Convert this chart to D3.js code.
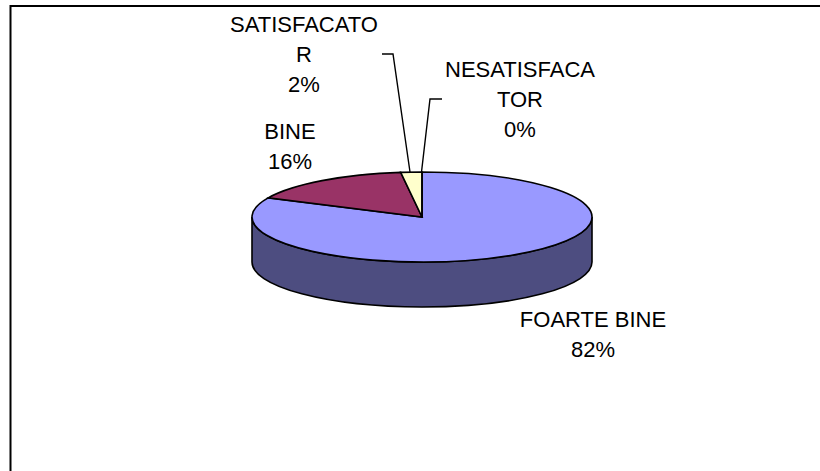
<!DOCTYPE html>
<html>
<head>
<meta charset="utf-8">
<script src="https://cdn.jsdelivr.net/npm/d3@7"></script>
<style>
  html, body { margin: 0; padding: 0; background: #fff; overflow: hidden; }
  text { font-family: "Liberation Sans", Arial, sans-serif; font-size: 22px; fill: #000; }
</style>
</head>
<body>
<div id="chart"></div>
<script>
const categories = ['FOARTE BINE', 'BINE', 'SATISFACATOR', 'NESATISFACATOR']
const values = [82, 16, 2, 0]
const labelLines = [['FOARTE BINE'], ['BINE'], ['SATISFACATO', 'R'], ['NESATISFACA', 'TOR']]
const colors = ['#9999ff', '#993366', '#ffffcc', '#ccffff']

const width = 820, height = 471
const cx = 422, cy = 217, rx = 170, ry = 45, depth = 45

const svg = d3.select('#chart').append('svg')
  .attr('width', width)
  .attr('height', height)
  .style('display', 'block')

// frame: only top and left show in the picture
svg.append('path')
  .attr('d', `M10.5,${height}V6H${width}`)
  .attr('fill', 'none')
  .attr('stroke', '#000')
  .attr('stroke-width', 2)

// front wall of the disc
svg.append('path')
  .attr('d', `M${cx - rx},${cy}V${cy + depth}A${rx},${ry} 0 0 0 ${cx + rx},${cy + depth}V${cy}A${rx},${ry} 0 0 1 ${cx - rx},${cy}Z`)
  .attr('fill', '#4d4d80')
  .attr('stroke', '#000')
  .attr('stroke-width', 1.6)

const pie = d3.pie().sort(null).value(d => d)
const arc = d3.arc().innerRadius(0).outerRadius(rx)

// flatten the pie to get the tilted look
const pieTop = svg.append('g')
  .attr('transform', `translate(${cx},${cy}) scale(1,${ry / rx})`)

pieTop.selectAll('path')
  .data(pie(values))
  .enter().append('path')
  .attr('d', arc)
  .attr('fill', (d, i) => colors[i])
  .attr('stroke', '#000')
  .attr('stroke-width', 1.6)
  .attr('vector-effect', 'non-scaling-stroke')

// label anchors, same order as categories
const labelX = [593, 290, 304, 520]
const labelY = [327, 139, 32, 77]
const lineGap = 30

const labels = svg.selectAll('g.label')
  .data(categories)
  .enter().append('g')
  .attr('class', 'label')

labels.each(function(name, i) {
  const lines = labelLines[i].concat([d3.format('.0f')(values[i]) + '%'])
  d3.select(this).selectAll('text')
    .data(lines)
    .enter().append('text')
    .attr('x', labelX[i])
    .attr('y', (d, j) => labelY[i] + j * lineGap)
    .attr('text-anchor', 'middle')
    .text(d => d)
})

// leader lines for the two thin slices
const leaderLine = d3.line()
svg.selectAll('path.leader')
  .data([
    [[382, 54], [393, 54], [410, 172]],
    [[442, 99], [430, 99], [421.5, 172]]
  ])
  .enter().append('path')
  .attr('class', 'leader')
  .attr('d', leaderLine)
  .attr('fill', 'none')
  .attr('stroke', '#000')
  .attr('stroke-width', 1.4)
</script>
</body>
</html>
